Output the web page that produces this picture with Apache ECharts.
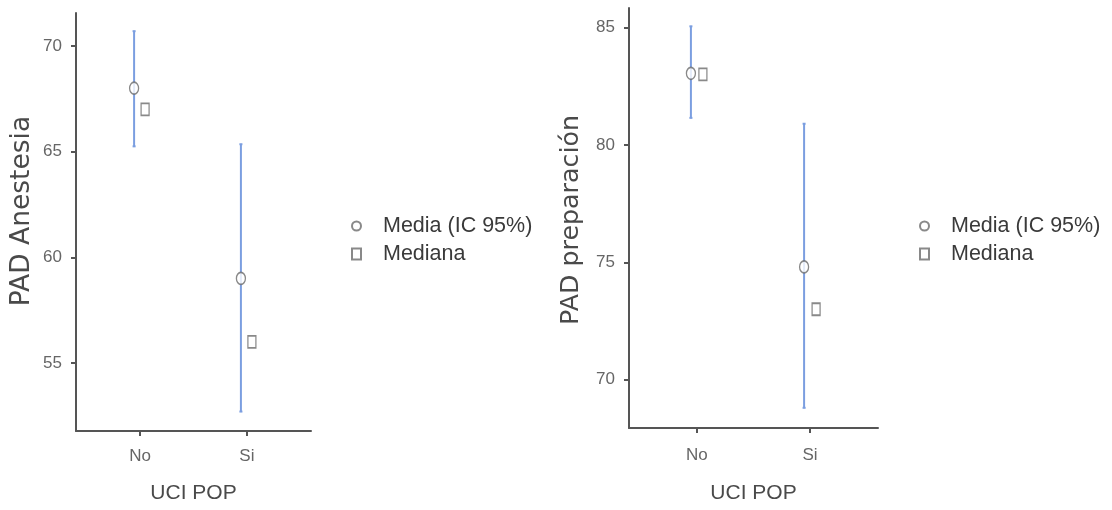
<!DOCTYPE html>
<html>
<head>
<meta charset="utf-8">
<script src="https://cdn.jsdelivr.net/npm/echarts@6/dist/echarts.min.js"></script>
<style>
html,body{margin:0;padding:0;background:#fff;}
#chart{width:1112px;height:510px;}
</style>
</head>
<body>
<div id="chart"></div>
<script>
// ---- data ----
const categories = ['No', 'Si'];
// PAD Anestesia
const anesMean   = [68.0, 59.0];
const anesLower  = [65.25, 52.7];
const anesUpper  = [70.7, 65.35];
const anesMedian = [67, 56];
const anesTicks  = [55, 60, 65, 70];
// PAD preparación
const prepMean   = [83.05, 74.8];
const prepLower  = [81.15, 68.8];
const prepUpper  = [85.05, 80.9];
const prepMedian = [83, 73];
const prepTicks  = [70, 75, 80, 85];

const seriesNames = ['Media (IC 95%)', 'Mediana'];
const xTitle = 'UCI POP';
const yTitles = ['PAD Anestesia', 'PAD preparación'];

// ---- styles ----
const SANS = '"Liberation Sans", Arial, sans-serif';
const WIDE = '"DejaVu Sans", "Liberation Sans", sans-serif';
const barColor = '#7b9ee0';
const markColor = '#6b6b6b';
const axisColor = '#555555';
const tickLabelColor = '#666666';
const titleColor = '#4a4a4a';

function idx(arr) { return arr.map((v, i) => [i, v]); }

function errorSeries(lo, hi, ai, off) {
  return {
    type: 'custom',
    xAxisIndex: ai, yAxisIndex: ai,
    silent: true, z: 1,
    data: lo.map((v, i) => [i, v, hi[i]]),
    renderItem: function (params, api) {
      const x = api.value(0);
      const p1 = api.coord([x, api.value(1)]);
      const p2 = api.coord([x, api.value(2)]);
      const cx = p1[0] + off;
      const st = { stroke: barColor, lineWidth: 2 };
      return {
        type: 'group',
        children: [
          { type: 'line', shape: { x1: cx, y1: p1[1], x2: cx, y2: p2[1] }, style: st },
          { type: 'line', shape: { x1: cx - 1.5, y1: p1[1], x2: cx + 1.5, y2: p1[1] }, style: st },
          { type: 'line', shape: { x1: cx - 1.5, y1: p2[1], x2: cx + 1.5, y2: p2[1] }, style: st }
        ]
      };
    }
  };
}

function pointSeries(name, vals, ai, symbol, size, off) {
  return {
    name: name, type: 'scatter',
    xAxisIndex: ai, yAxisIndex: ai, z: 3,
    symbol: symbol, symbolSize: size, symbolOffset: [off, 0],
    itemStyle: { color: '#ffffff', borderColor: markColor, borderWidth: 1.5 },
    data: idx(vals)
  };
}

function xAxisDef(gi) {
  return {
    gridIndex: gi, type: 'value', min: -0.6, max: 1.6,
    name: xTitle, nameLocation: 'middle', nameGap: gi === 0 ? 52 : 55,
    nameTextStyle: { fontFamily: SANS, fontSize: 21, color: titleColor },
    axisLine: { show: true, onZero: false, lineStyle: { color: axisColor, width: 2 } },
    axisTick: { show: true, customValues: [0, 1], length: 5, lineStyle: { color: axisColor, width: 2 } },
    axisLabel: { customValues: [0, 1], formatter: v => categories[Math.round(v)], margin: gi === 0 ? 17 : 19,
      fontFamily: SANS, fontSize: 17, color: tickLabelColor },
    splitLine: { show: false }
  };
}

function yAxisDef(gi, min, max, ticks, title, gap, pad, fs) {
  return {
    gridIndex: gi, type: 'value', min: min, max: max,
    name: title, nameLocation: 'middle', nameGap: gap,
    nameTextStyle: { fontFamily: WIDE, fontSize: fs, color: titleColor, padding: pad },
    axisLine: { show: true, onZero: false, lineStyle: { color: axisColor, width: 2 } },
    axisTick: { show: true, customValues: ticks, length: 5, lineStyle: { color: axisColor, width: 2 } },
    axisLabel: { customValues: ticks, margin: 14, fontFamily: SANS, fontSize: 17, color: tickLabelColor },
    splitLine: { show: false }
  };
}

function legendDef(left) {
  return {
    orient: 'vertical', left: left, top: 210,
    data: seriesNames, selectedMode: false,
    itemWidth: 9, itemHeight: 11, itemGap: 6,
    textStyle: { fontFamily: SANS, fontSize: 21.5, color: '#3a3a3a', padding: [0, 0, 0, 17] }
  };
}

const chart = echarts.init(document.getElementById('chart'), null, { renderer: 'canvas' });
chart.setOption({
  animation: false,
  backgroundColor: '#ffffff',
  grid: [
    { left: 76, top: 13, width: 235, height: 418 },
    { left: 629, top: 8, width: 249, height: 420 }
  ],
  xAxis: [xAxisDef(0), xAxisDef(1)],
  yAxis: [
    yAxisDef(0, 51.78, 71.56, anesTicks, yTitles[0], 40, [0, 0, 0, 22], 26.5),
    yAxisDef(1, 67.94, 85.83, prepTicks, yTitles[1], 45, [0, 4, 0, 0], 25.3)
  ],
  legend: [legendDef(346), legendDef(914)],
  series: [
    errorSeries(anesLower, anesUpper, 0, -6),
    pointSeries(seriesNames[0], anesMean, 0, 'circle', [9, 12], -6),
    pointSeries(seriesNames[1], anesMedian, 0, 'rect', [8, 12], 5),
    errorSeries(prepLower, prepUpper, 1, -6),
    pointSeries(seriesNames[0], prepMean, 1, 'circle', [9, 12], -6),
    pointSeries(seriesNames[1], prepMedian, 1, 'rect', [8, 12], 6)
  ]
});
</script>
</body>
</html>
